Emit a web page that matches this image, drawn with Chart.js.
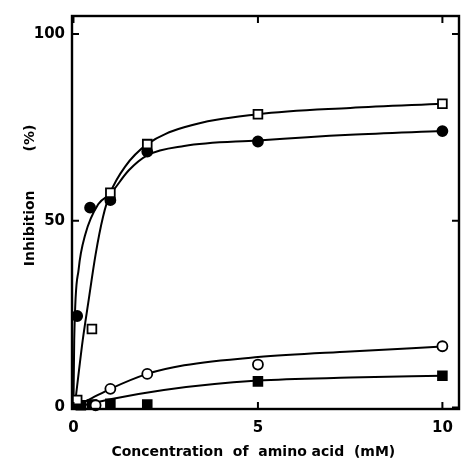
<!DOCTYPE html>
<html>
<head>
<meta charset="utf-8">
<script src="https://cdn.jsdelivr.net/npm/chart.js@4"></script>
<style>
  html, body { margin: 0; padding: 0; background: #fff; }
  #wrap { width: 467px; height: 466px; }
</style>
</head>
<body>
<div id="wrap"><canvas id="chart" width="467" height="466"></canvas></div>
<script>
// measured points (concentration mM, inhibition %)
var sqOpenX = [0.1, 0.5, 1, 2, 5, 10];
var sqOpenY = [2, 21, 57.5, 70.5, 78.5, 81.3];
var circFillX = [0.1, 0.45, 1, 2, 5, 10];
var circFillY = [24.5, 53.5, 55.5, 68.5, 71.2, 74];
var circOpenX = [0.6, 1, 2, 5, 10];
var circOpenY = [0.6, 5, 9, 11.5, 16.4];
var sqFillX = [0.2, 0.5, 1, 2, 5, 10];
var sqFillY = [0.6, 0.8, 1, 0.8, 7, 8.5];

// fitted curves drawn by hand in the original
var curveSqX = [0.03, 0.15, 0.25, 0.4, 0.6, 0.8, 1, 1.4, 2, 3, 5, 7.5, 10];
var curveSqY = [0, 10, 18, 28, 41, 51, 57.5, 64.5, 70.5, 75, 78.5, 80.2, 81.3];
var curveCfX = [0, 0.02, 0.14, 0.32, 0.67, 1, 1.5, 2, 3, 5, 7.5, 10];
var curveCfY = [0, 18, 37, 46.3, 54.4, 57.2, 63.5, 67.5, 70, 71.5, 73, 74];
var curveCoX = [0, 0.5, 1, 2, 3, 5, 7.5, 10];
var curveCoY = [0, 2.5, 5, 9, 11.3, 13.5, 15, 16.3];
var curveSfX = [0, 1, 2.45, 5, 7.5, 10];
var curveSfY = [0, 2.2, 4.7, 7.2, 8, 8.5];

var xTicks = [0, 5, 10];
var yTicks = [0, 50, 100];

function pts(xs, ys) {
    return xs.map(function (x, i) { return {x: x, y: ys[i]}; });
}

function markers(xs, ys, style, fill, r) {
    return {
        type: 'scatter', data: pts(xs, ys), order: 0,
        pointStyle: style, pointRadius: r, pointHoverRadius: r,
        backgroundColor: fill, borderColor: '#000', pointBorderWidth: 1.8,
        showLine: false, clip: false
    };
}

function curve(xs, ys) {
    return {
        type: 'line', data: pts(xs, ys), order: 1,
        borderColor: '#000', borderWidth: 2, pointRadius: 0,
        cubicInterpolationMode: 'monotone', fill: false, clip: false
    };
}

// frame round the plot with inward ticks
var framePlugin = {
    id: 'frame',
    afterDatasetsDraw: function (chart) {
        var ctx = chart.ctx, a = chart.chartArea;
        var xs = chart.scales.x, ys = chart.scales.y;
        ctx.save();
        ctx.strokeStyle = '#000';
        ctx.lineWidth = 2.4;
        ctx.strokeRect(a.left, a.top, a.right - a.left, a.bottom - a.top);
        ctx.lineWidth = 2;
        ctx.beginPath();
        xTicks.forEach(function (v) {
            var px = xs.getPixelForValue(v);
            ctx.moveTo(px, a.bottom); ctx.lineTo(px, a.bottom - 7);
            ctx.moveTo(px, a.top); ctx.lineTo(px, a.top + 7);
        });
        yTicks.forEach(function (v) {
            var py = ys.getPixelForValue(v);
            ctx.moveTo(a.left, py); ctx.lineTo(a.left + 7, py);
            ctx.moveTo(a.right, py); ctx.lineTo(a.right - 7, py);
        });
        ctx.stroke();
        ctx.restore();
    }
};

var tickFont = {family: 'DejaVu Sans', size: 15, weight: 'bold'};

new Chart(document.getElementById('chart').getContext('2d'), {
    data: {
        datasets: [
            markers(sqOpenX, sqOpenY, 'rect', '#fff', 6.2),
            markers(circFillX, circFillY, 'circle', '#000', 5),
            markers(circOpenX, circOpenY, 'circle', '#fff', 5),
            markers(sqFillX, sqFillY, 'rect', '#000', 6.2),
            curve(curveSqX, curveSqY),
            curve(curveCfX, curveCfY),
            curve(curveCoX, curveCoY),
            curve(curveSfX, curveSfY)
        ]
    },
    options: {
        responsive: false,
        animation: false,
        devicePixelRatio: 1,
        layout: {padding: {top: 16, right: 3, left: 0, bottom: 0}},
        plugins: {legend: {display: false}, tooltip: {enabled: false}},
        scales: {
            x: {
                type: 'linear', min: -0.04, max: 10.45,
                afterBuildTicks: function (s) { s.ticks = xTicks.map(function (v) { return {value: v}; }); },
                afterFit: function (s) { s.height = 57; },
                grid: {display: false, drawTicks: false},
                border: {display: false},
                ticks: {color: '#000', font: tickFont, padding: 10, maxRotation: 0},
                title: {display: true, text: 'Concentration  of  amino acid  (mM)     ', color: '#000',
                        font: {family: 'DejaVu Sans', size: 14, weight: 'bold'}, padding: {top: 0, bottom: 5}}
            },
            y: {
                type: 'linear', min: -0.4, max: 104.8,
                afterBuildTicks: function (s) { s.ticks = yTicks.map(function (v) { return {value: v}; }); },
                afterFit: function (s) { s.width = 72; },
                grid: {display: false, drawTicks: false},
                border: {display: false},
                ticks: {color: '#000', font: tickFont, padding: 7},
                title: {display: true, text: '       Inhibition        (%)', color: '#000',
                        font: {family: 'DejaVu Sans', size: 14, weight: 'bold'}, padding: {top: 22, bottom: 0}}
            }
        }
    },
    plugins: [framePlugin]
});
</script>
</body>
</html>
